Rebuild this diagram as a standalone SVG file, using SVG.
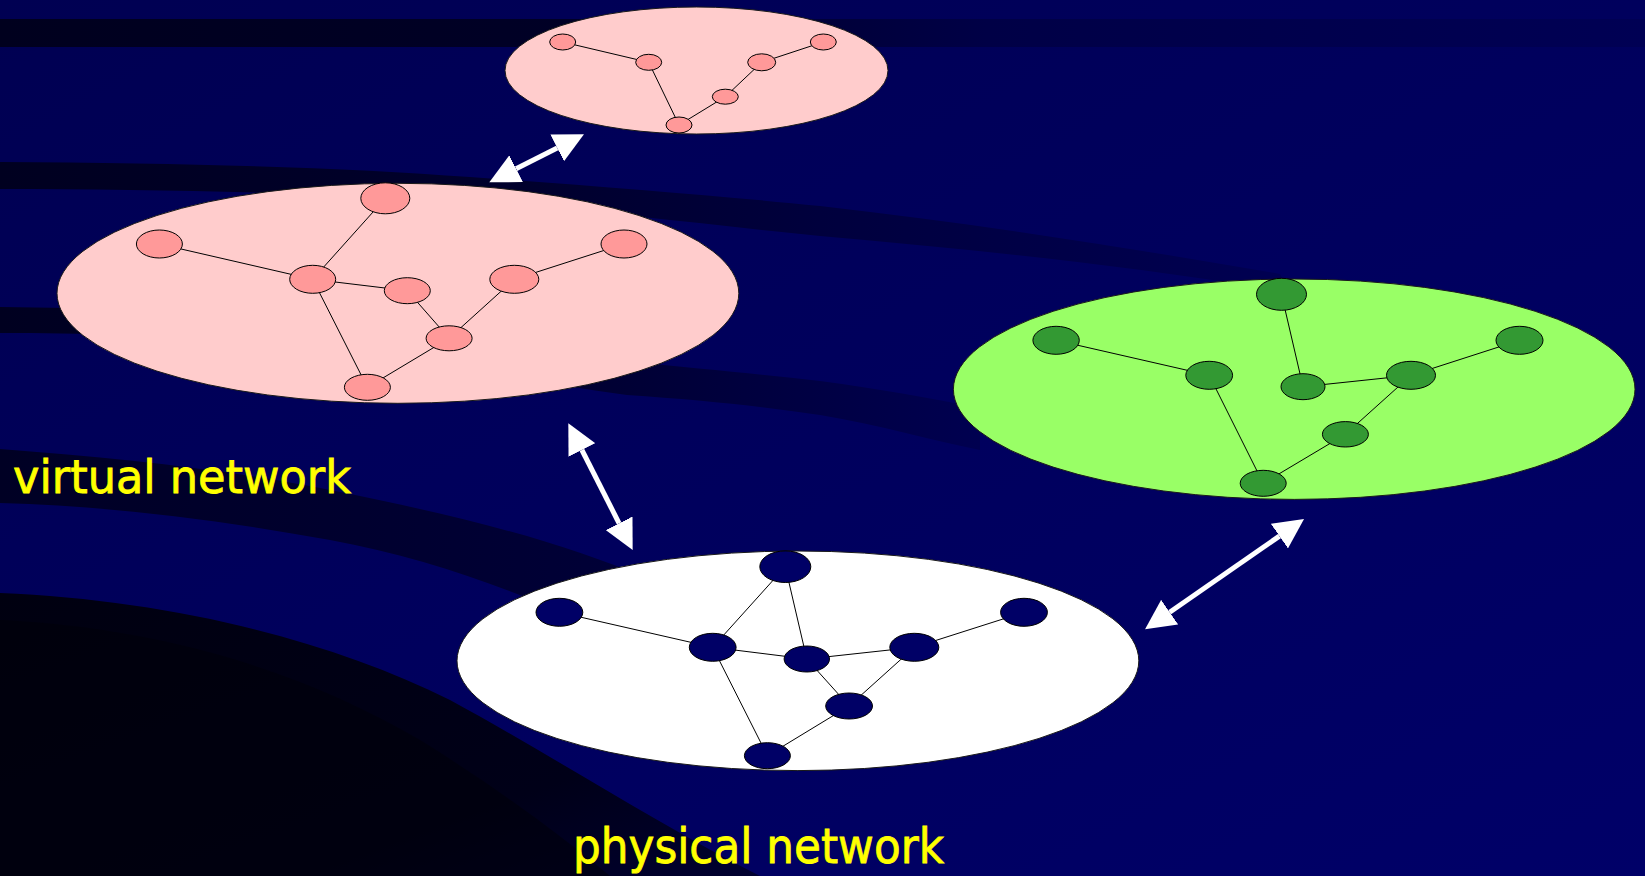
<svg xmlns="http://www.w3.org/2000/svg" width="1645" height="876" viewBox="0 0 1645 876">
<defs>
<linearGradient id="bg" x1="0" y1="0" x2="1" y2="1">
<stop offset="0" stop-color="#000052"/>
<stop offset="1" stop-color="#000068"/>
</linearGradient>
<linearGradient id="bandTop" x1="0" y1="0" x2="1" y2="0">
<stop offset="0" stop-color="#00001e"/>
<stop offset="0.35" stop-color="#000026"/>
<stop offset="0.6" stop-color="#000046"/>
<stop offset="1" stop-color="#000054"/>
</linearGradient>
<linearGradient id="band2" x1="0" y1="0" x2="1" y2="0">
<stop offset="0" stop-color="#000020"/>
<stop offset="0.4" stop-color="#00002c"/>
<stop offset="0.65" stop-color="#00003e"/>
<stop offset="1" stop-color="#000052"/>
</linearGradient>
<linearGradient id="band3" x1="0" y1="0" x2="1" y2="0">
<stop offset="0" stop-color="#000020"/>
<stop offset="0.6" stop-color="#000032"/>
<stop offset="1" stop-color="#000050"/>
</linearGradient>
<linearGradient id="band4" x1="0" y1="0" x2="1" y2="0">
<stop offset="0" stop-color="#000024"/>
<stop offset="1" stop-color="#000038"/>
</linearGradient>
<linearGradient id="deep" x1="0" y1="0" x2="1" y2="1">
<stop offset="0" stop-color="#000010"/>
<stop offset="0.7" stop-color="#000018"/>
<stop offset="1" stop-color="#000030"/>
</linearGradient>
<marker id="ah" viewBox="0 0 30 30" markerWidth="30" markerHeight="30" markerUnits="userSpaceOnUse" refX="0" refY="15" orient="auto-start-reverse">
<path d="M0,0 L30,15 L0,30 Z" fill="#ffffff"/>
</marker>
<style>
.cloud{stroke:#1a1a1a;stroke-width:1}
.pk{fill:#ffcccc}
.gr{fill:#99ff66}
.wh{fill:#ffffff}
.pn{fill:#ff9999;stroke:#000;stroke-width:1}
.gn{fill:#339933;stroke:#000;stroke-width:1}
.nn{fill:#000066;stroke:#000;stroke-width:1}
.e{stroke:#000;stroke-width:1;fill:none}
.arr{stroke:#ffffff;stroke-width:5;fill:none;marker-start:url(#ah);marker-end:url(#ah)}
.lbl{font-family:"Comic Sans MS","DejaVu Sans",sans-serif;fill:#ffff00;stroke:#ffff00;stroke-width:0.8}
</style>
</defs>

<g id="background">
<rect x="0" y="0" width="1645" height="876" fill="url(#bg)"/>
<rect x="0" y="19" width="1645" height="28" fill="url(#bandTop)"/>
<path d="M0,162 C200,163 350,168 470,177 C600,186 720,196 820,206 C980,224 1130,248 1280,274 L1290,292 C1130,266 980,250 820,236 C700,224 560,206 430,199 C300,193 150,189 0,189 Z" fill="url(#band2)"/>
<path d="M0,307 C120,308 220,312 320,318 C460,330 560,348 627,361 C700,369 760,374 820,381 C880,389 930,398 980,408 L980,450 C930,440 880,425 820,415 C760,406 700,400 627,395 C520,380 420,358 320,347 C200,336 100,333 0,333 Z" fill="url(#band3)"/>
<path d="M0,449 C120,458 230,470 330,490 C450,514 560,540 650,580 L620,640 C540,600 440,560 330,540 C220,520 110,506 0,503 Z" fill="url(#band4)"/>
<path d="M0,593 C170,600 330,640 450,700 C560,760 650,820 760,876 L0,876 Z" fill="url(#deep)"/>
<path d="M0,620 C160,628 300,670 420,740 C500,790 560,835 610,876 L0,876 Z" fill="#00000a" opacity="0.55"/>
</g>

<g id="net-top">
<ellipse class="cloud pk" cx="696.5" cy="70.5" rx="191.5" ry="63.5"/>
</g>
<g id="net-virtual">
<ellipse class="cloud pk" cx="397.9" cy="293.3" rx="340.9" ry="110"/>
</g>
<g id="net-green">
<ellipse class="cloud gr" cx="1294.2" cy="389.2" rx="340.8" ry="110.2"/>
</g>
<g id="net-physical">
<ellipse class="cloud wh" cx="797.9" cy="660.8" rx="340.9" ry="109.8"/>
</g>

<g id="connectors">
<line class="e" x1="562.7" y1="42" x2="648.7" y2="62.3"/>
<line class="e" x1="648.7" y1="62.3" x2="679" y2="125"/>
<line class="e" x1="679" y1="125" x2="725.3" y2="96.7"/>
<line class="e" x1="725.3" y1="96.7" x2="761.7" y2="62.3"/>
<line class="e" x1="761.7" y1="62.3" x2="823.3" y2="42"/>

<line class="e" x1="159.4" y1="244" x2="312.7" y2="279.3"/>
<line class="e" x1="385.3" y1="198.3" x2="312.7" y2="279.3"/>
<line class="e" x1="312.7" y1="279.3" x2="407.3" y2="290.7"/>
<line class="e" x1="407.3" y1="290.7" x2="449.1" y2="338.3"/>
<line class="e" x1="312.7" y1="279.3" x2="367.4" y2="387.3"/>
<line class="e" x1="367.4" y1="387.3" x2="449.1" y2="338.3"/>
<line class="e" x1="449.1" y1="338.3" x2="514.3" y2="279.3"/>
<line class="e" x1="514.3" y1="279.3" x2="624" y2="244"/>

<line class="e" x1="1056.1" y1="340.3" x2="1209.2" y2="375.3"/>
<line class="e" x1="1209.2" y1="375.3" x2="1263.2" y2="483.3"/>
<line class="e" x1="1263.2" y1="483.3" x2="1345.4" y2="434.3"/>
<line class="e" x1="1345.4" y1="434.3" x2="1411" y2="375.3"/>
<line class="e" x1="1411" y1="375.3" x2="1519.5" y2="340.3"/>
<line class="e" x1="1281.5" y1="294.3" x2="1303" y2="386.7"/>
<line class="e" x1="1303" y1="386.7" x2="1411" y2="375.3"/>

<line class="e" x1="559.4" y1="612.3" x2="712.7" y2="647.3"/>
<line class="e" x1="712.7" y1="647.3" x2="785.3" y2="566.7"/>
<line class="e" x1="785.3" y1="566.7" x2="806.8" y2="659"/>
<line class="e" x1="712.7" y1="647.3" x2="806.8" y2="659"/>
<line class="e" x1="806.8" y1="659" x2="914.3" y2="647.3"/>
<line class="e" x1="914.3" y1="647.3" x2="1024" y2="612.3"/>
<line class="e" x1="806.8" y1="659" x2="849.1" y2="706"/>
<line class="e" x1="914.3" y1="647.3" x2="849.1" y2="706"/>
<line class="e" x1="712.7" y1="647.3" x2="767.4" y2="755.7"/>
<line class="e" x1="767.4" y1="755.7" x2="849.1" y2="706"/>

<line class="arr" x1="516.1" y1="168.7" x2="557.2" y2="147.9"/>
<line class="arr" x1="581.9" y1="450" x2="619.1" y2="523.3"/>
<line class="arr" x1="1279.4" y1="536.1" x2="1169.7" y2="612.2"/>
</g>

<g id="t1"><ellipse class="pn" cx="562.7" cy="42" rx="13" ry="8"/></g>
<g id="t2"><ellipse class="pn" cx="648.7" cy="62.3" rx="13" ry="8"/></g>
<g id="t3"><ellipse class="pn" cx="761.7" cy="62.3" rx="14" ry="8.5"/></g>
<g id="t4"><ellipse class="pn" cx="823.3" cy="42" rx="13" ry="8"/></g>
<g id="t5"><ellipse class="pn" cx="725.3" cy="96.7" rx="13" ry="7.5"/></g>
<g id="t6"><ellipse class="pn" cx="679" cy="125" rx="13" ry="8"/></g>

<g id="v-a"><ellipse class="pn" cx="385.3" cy="198.3" rx="24.5" ry="15.5"/></g>
<g id="v-b"><ellipse class="pn" cx="159.4" cy="244" rx="23" ry="14"/></g>
<g id="v-c"><ellipse class="pn" cx="312.7" cy="279.3" rx="23" ry="14"/></g>
<g id="v-d"><ellipse class="pn" cx="407.3" cy="290.7" rx="23" ry="13"/></g>
<g id="v-e"><ellipse class="pn" cx="514.3" cy="279.3" rx="24.5" ry="14"/></g>
<g id="v-f"><ellipse class="pn" cx="624" cy="244" rx="23" ry="14"/></g>
<g id="v-g"><ellipse class="pn" cx="449.1" cy="338.3" rx="23" ry="12.5"/></g>
<g id="v-h"><ellipse class="pn" cx="367.4" cy="387.3" rx="23" ry="13"/></g>

<g id="g-top"><ellipse class="gn" cx="1281.5" cy="294.3" rx="25" ry="16"/></g>
<g id="g-l"><ellipse class="gn" cx="1056.1" cy="340.3" rx="23.2" ry="14"/></g>
<g id="g-hl"><ellipse class="gn" cx="1209.2" cy="375.3" rx="23.4" ry="14"/></g>
<g id="g-m"><ellipse class="gn" cx="1303" cy="386.7" rx="22" ry="13"/></g>
<g id="g-hr"><ellipse class="gn" cx="1411" cy="375.3" rx="24.5" ry="14"/></g>
<g id="g-r"><ellipse class="gn" cx="1519.5" cy="340.3" rx="23.5" ry="14"/></g>
<g id="g-lo"><ellipse class="gn" cx="1345.4" cy="434.3" rx="23" ry="12.7"/></g>
<g id="g-b"><ellipse class="gn" cx="1263.2" cy="483.3" rx="23" ry="13"/></g>

<g id="p-top"><ellipse class="nn" cx="785.3" cy="566.7" rx="25.5" ry="15.8"/></g>
<g id="p-l"><ellipse class="nn" cx="559.4" cy="612.3" rx="23.4" ry="14"/></g>
<g id="p-h"><ellipse class="nn" cx="712.7" cy="647.3" rx="23.4" ry="14"/></g>
<g id="p-c"><ellipse class="nn" cx="806.8" cy="659" rx="22.7" ry="13"/></g>
<g id="p-hr"><ellipse class="nn" cx="914.3" cy="647.3" rx="24.5" ry="14"/></g>
<g id="p-r"><ellipse class="nn" cx="1024" cy="612.3" rx="23.4" ry="14"/></g>
<g id="p-lo"><ellipse class="nn" cx="849.1" cy="706" rx="23.4" ry="13"/></g>
<g id="p-b"><ellipse class="nn" cx="767.4" cy="755.7" rx="23" ry="13"/></g>

<g id="label-virtual"><text class="lbl" x="13" y="493" font-size="46" textLength="338" lengthAdjust="spacingAndGlyphs">virtual network</text></g>
<g id="label-physical"><text class="lbl" x="573" y="863" font-size="48" textLength="371" lengthAdjust="spacingAndGlyphs">physical network</text></g>
</svg>
